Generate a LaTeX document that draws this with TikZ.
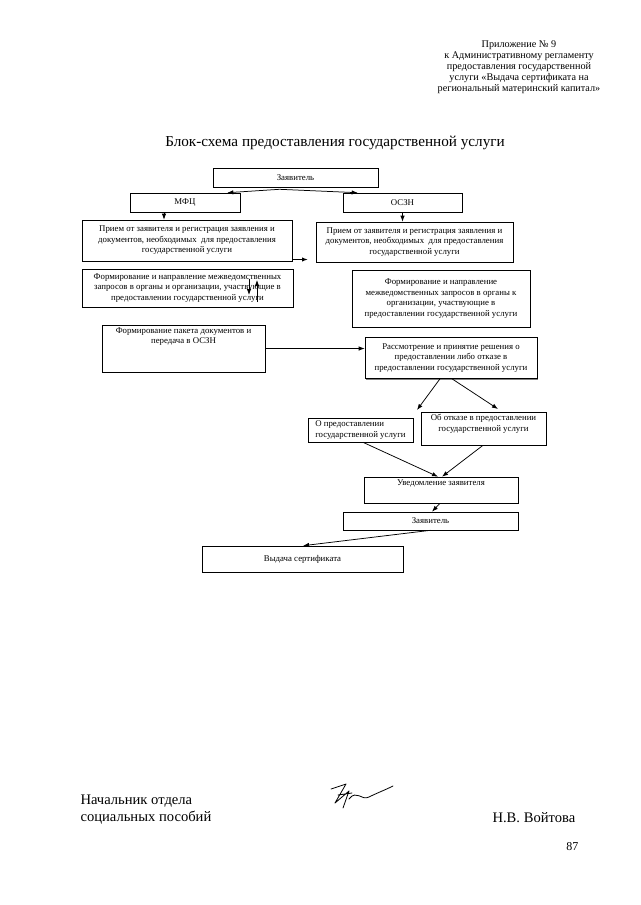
\documentclass[tikz,border=0pt]{standalone}
\usepackage{fontspec}
\setmainfont{Liberation Serif}
\usepackage{tikz}
\usetikzlibrary{positioning,arrows.meta,shadows}

\begin{document}
\begin{tikzpicture}[x=1pt,y=-1pt,>={Latex[length=6pt,width=4.4pt]},
   blk/.style={draw,line width=0.6pt,fill=white,inner sep=2pt,align=center,
      font=\fontsize{8.8}{10.5}\selectfont,
      drop shadow={shadow xshift=1pt,shadow yshift=-1pt,fill=black!50,opacity=1}}]
   \useasboundingbox (0,0) rectangle (640,905);
   % header and title
   \node[anchor=north,align=center,font=\fontsize{10.2}{11}\selectfont] (hdr) at (519,37)
      {Приложение № 9\\ к Административному регламенту\\ предоставления государственной\\
       услуги «Выдача сертификата на\\ региональный материнский капитал»};
   \node[font=\fontsize{15.2}{17}\selectfont] (ttl) at (335,143)
      {Блок-схема предоставления государственной услуги};
   % boxes
   \node[blk,minimum width=165pt,minimum height=19pt] (zv1) at (295.5,177.5) {Заявитель};
   \node[blk,minimum width=110pt,minimum height=19pt] (mfc) at (185,202.5) {МФЦ};
   \node[blk,minimum width=119pt,minimum height=19pt] (oszn) at (402.5,202.5) {ОСЗН};
   \node[blk,minimum width=210pt,minimum height=41pt] (pr1) at (187,240.5)
      {Прием от заявителя и регистрация заявления и\\ документов, необходимых\ \ для предоставления\\ государственной услуги};
   \node[blk,minimum width=197pt,minimum height=40pt] (pr2) at (414.5,242)
      {Прием от заявителя и регистрация заявления и\\ документов, необходимых\ \ для предоставления\\ государственной услуги};
   \node[blk,minimum width=211pt,minimum height=38pt] (fm1) at (187.5,288)
      {Формирование и направление межведомственных\\ запросов в органы и организации, участвующие в\\ предоставлении государственной услуги};
   \node[blk,minimum width=178pt,minimum height=57pt] (fm2) at (441,298.5)
      {Формирование и направление\\ межведомственных запросов в органы к\\ организации, участвующие в\\ предоставлении государственной услуги};
   \node[blk,minimum width=163pt,minimum height=47pt] (pak) at (183.5,348.5)
      {\parbox[c][42pt][t]{157pt}{\centering Формирование пакета документов и\\ передача в ОСЗН}};
   \node[blk,minimum width=172pt,minimum height=41pt] (rass) at (451,358)
      {Рассмотрение и принятие решения о\\ предоставлении либо отказе в\\ предоставлении государственной услуги};
   \node[blk,align=left,minimum width=105pt,minimum height=24pt] (opr) at (360.5,430)
      {О предоставлении\\ государственной услуги};
   \node[blk,minimum width=125pt,minimum height=33pt] (otk) at (483.5,428.5)
      {\parbox[c][28pt][t]{120pt}{\centering Об отказе в предоставлении\\ государственной услуги}};
   \node[blk,minimum width=154pt,minimum height=26pt] (uved) at (441,490)
      {\parbox[c][21pt][t]{148pt}{\centering Уведомление заявителя}};
   \node[blk,minimum width=175pt,minimum height=18pt] (zv2) at (430.5,521) {Заявитель};
   \node[blk,minimum width=201pt,minimum height=26pt] (vyd) at (302.5,559) {Выдача сертификата};
   % free ends
   \coordinate (e1) at (308,259.5);
   \coordinate (d1) at (249,279);
   \coordinate (d2) at (249,295);
   \coordinate (u1) at (257,302);
   \coordinate (u2) at (257,280);
   \coordinate (t1) at (417,410);
   \coordinate (t2) at (498,409);
    \path[->,line width=0.75pt]
(zv1.south) ++(-16,2) coordinate (s1)
(s1) edge ([xshift=-13pt]mfc.north east)
	edge ([xshift=15pt]oszn.north west)
([xshift=-21pt]mfc.south) edge ([xshift=-21pt]mfc.south |- pr1.north)
(oszn.south) edge (oszn.south |- pr2.north)
(pr1.south east |- e1) edge[line width=1.2pt] (e1)
(d1) edge (d2)
(u1) edge (u2)
(pak.east) edge (pak.east -| rass.west)
([xshift=-11pt]rass.south) edge (t1)
([xshift=1pt]rass.south) edge (t2)
([xshift=2.5pt]opr.south) edge ([xshift=-3pt]uved.north)
([xshift=-0.5pt]otk.south) edge ([xshift=1pt]uved.north)
([xshift=-1pt]uved.south) edge ([xshift=1.5pt]zv2.north)
(zv2.south) edge ([xshift=0.5pt]vyd.north);
   % signature block
   \node[anchor=west,align=left,font=\fontsize{14.6}{17}\selectfont] (chf) at (77,810)
      {Начальник отдела\\ социальных пособий};
   \node[anchor=west,font=\fontsize{14.6}{17}\selectfont] (nam) at (489,818) {Н.В. Войтова};
   \node[anchor=east,font=\fontsize{12}{14}\selectfont] (pg) at (582,847) {87};
   \draw[line width=0.8pt,line cap=round,line join=round]
      (331,789) -- (346,784) -- (335,803) -- (349,791) -- (343,808)
      (338,795) -- (352,793)
      (349,799) .. controls (357,789) and (361,801) .. (369,797)
      .. controls (377,793) and (385,790) .. (393,786);
\end{tikzpicture}
\end{document}
